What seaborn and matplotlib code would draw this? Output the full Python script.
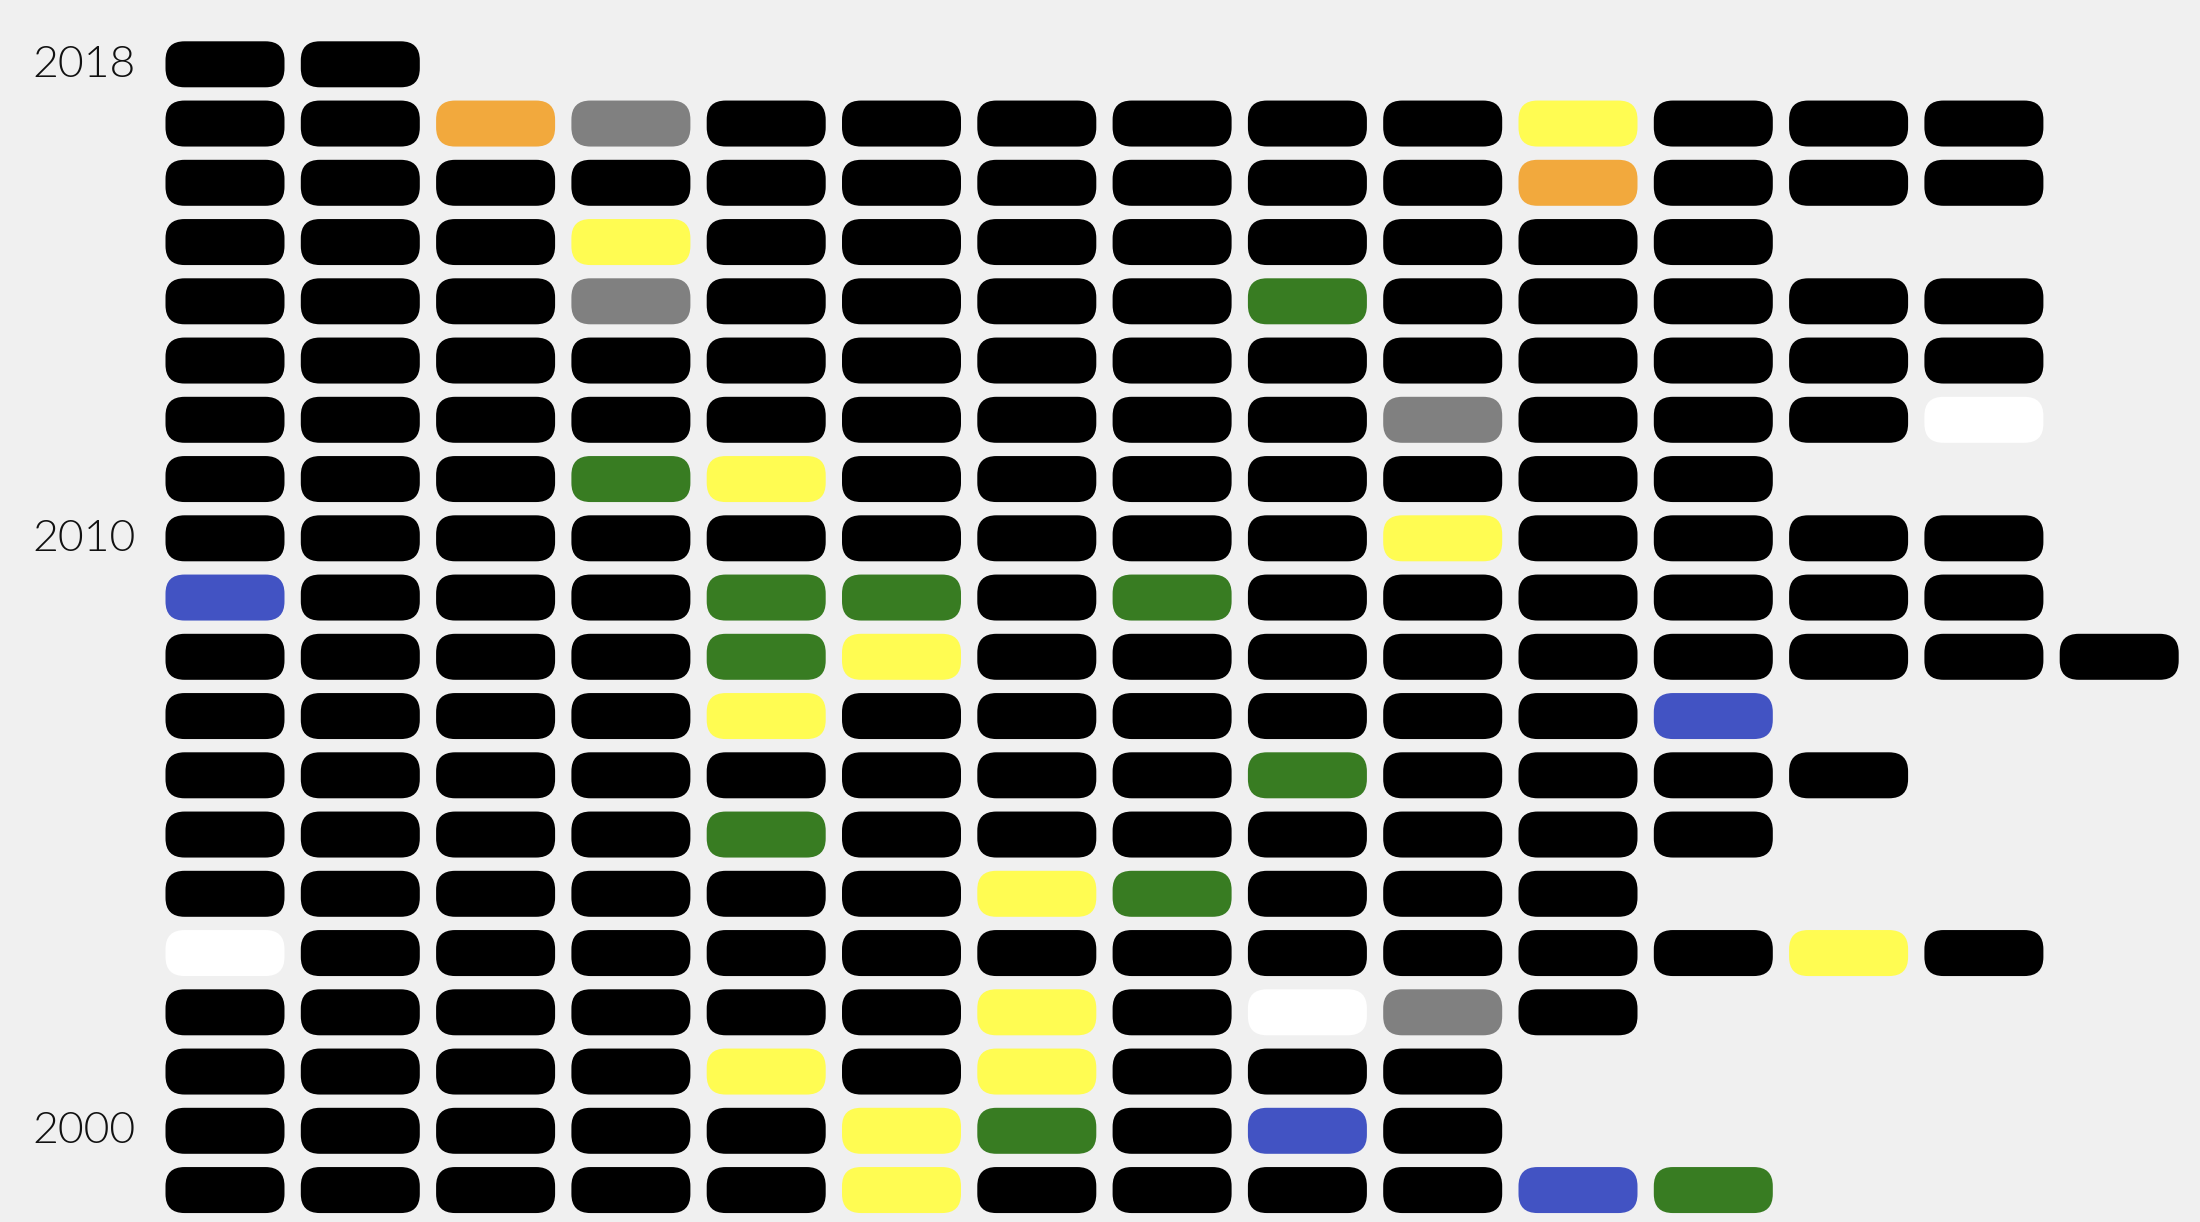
import matplotlib
matplotlib.use("Agg")
import matplotlib.pyplot as plt
from matplotlib.patches import FancyBboxPatch
import seaborn as sns

# one string per year, one letter per box (left to right)
years = list(range(2018, 1998, -1))
rows = [
    "KK",
    "KKOGKKKKKKYKKK",
    "KKKKKKKKKKOKKK",
    "KKKYKKKKKKKK",
    "KKKGKKKKNKKKKK",
    "KKKKKKKKKKKKKK",
    "KKKKKKKKKGKKKW",
    "KKKNYKKKKKKK",
    "KKKKKKKKKYKKKK",
    "BKKKNNKNKKKKKK",
    "KKKKNYKKKKKKKKK",
    "KKKKYKKKKKKB",
    "KKKKKKKKNKKKK",
    "KKKKNKKKKKKK",
    "KKKKKKYNKKK",
    "WKKKKKKKKKKKYK",
    "KKKKKKYKWGK",
    "KKKKYKYKKK",
    "KKKKKYNKBK",
    "KKKKKYKKKKBN",
]
labelled_years = [2018, 2010, 2000]
palette = {
    "K": "#000000",
    "O": "#F2A93D",
    "G": "#808080",
    "Y": "#FFFC52",
    "N": "#387C22",
    "B": "#4253C3",
    "W": "#FFFFFF",
}

BG = "#F0F0F0"
sns.set_theme(style="white", rc={"axes.facecolor": BG, "figure.facecolor": BG})
plt.rcParams['font.family'] = ['Lato', 'DejaVu Sans']

W, H = 2200, 1222
fig = plt.figure(figsize=(W / 100, H / 100), dpi=100)
ax = fig.add_axes([0, 0, 1, 1])

# pixel layout: column pitch ~135px, first centre at 225px; row pitch 59.25px
x0, xp = 225, 135.3
y0, yp = 64.3, 59.25
ax.set_xlim(-x0 / xp, (W - x0) / xp)
ax.set_ylim(2018 - (H - y0) / yp, 2018 + y0 / yp)

bw, bh = 119 / xp, 46 / yp
rad = 19 / xp
aspect = (19 / yp) / rad

for year, row in zip(years, rows):
    for i, code in enumerate(row):
        box = FancyBboxPatch((i - bw / 2, year - bh / 2), bw, bh,
                             boxstyle=f"round,pad=0,rounding_size={rad}",
                             mutation_aspect=aspect,
                             facecolor=palette[code], edgecolor="none")
        ax.add_patch(box)
    if year in labelled_years:
        ax.text(-0.66, year - 0.02, str(year), ha='right', va='center',
                fontsize=32, fontweight=300, color='#111111')

ax.axis('off')
fig.savefig("out.png", dpi=100, facecolor=BG)
